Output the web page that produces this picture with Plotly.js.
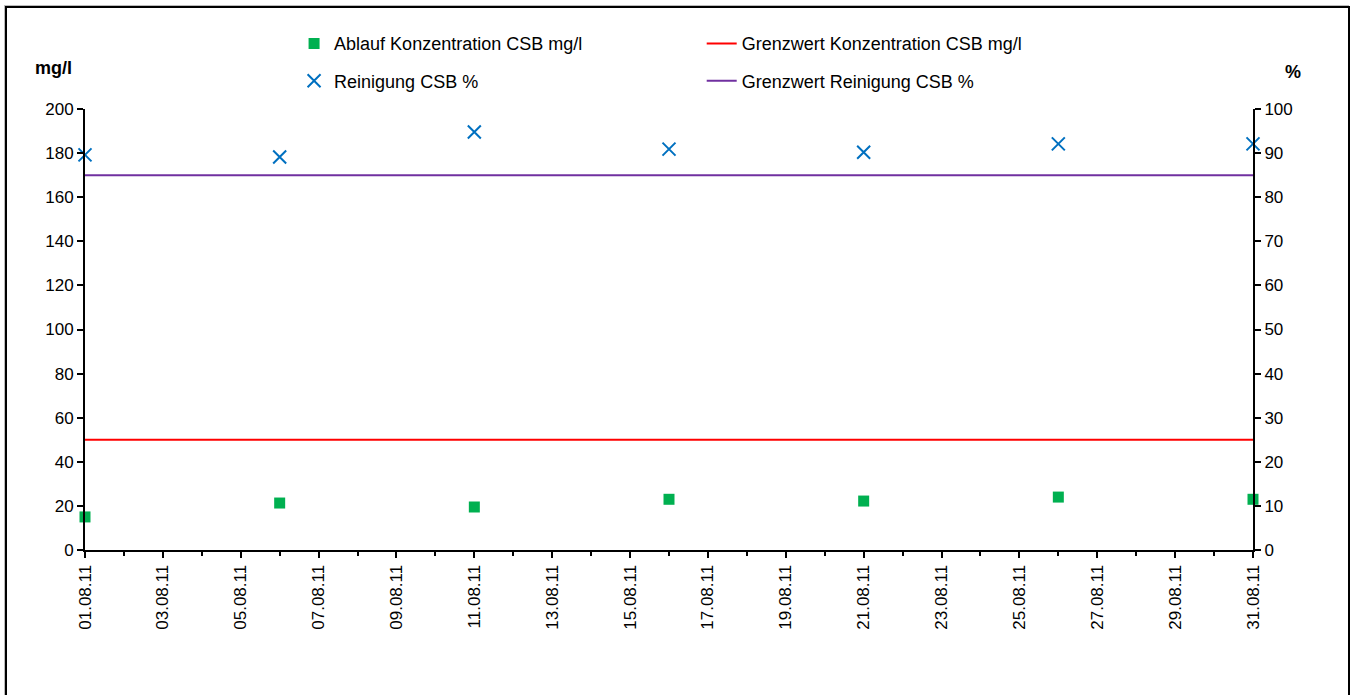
<!DOCTYPE html>
<html>
<head>
<meta charset="utf-8">
<script src="https://cdn.plot.ly/plotly-3.0.1.min.js"></script>
<style>
html,body{margin:0;padding:0;background:#fff;overflow:hidden;}
#chart{position:absolute;left:0;top:0;width:1355px;height:695px;}
#frame{position:absolute;left:5px;top:6px;width:1341px;height:720px;border:2px solid #000;box-shadow:-1px -1px 0 #bbb;pointer-events:none;}
</style>
</head>
<body>
<div id="chart"></div>
<div id="frame"></div>
<script>
const dates = ['2011-08-01','2011-08-06','2011-08-11','2011-08-16','2011-08-21','2011-08-26','2011-08-31'];
const ablaufCSB = [15, 21.3, 19.5, 23, 22.2, 24, 23];
const reinigungCSB = [89.6, 89.1, 94.8, 90.9, 90.2, 92.1, 92.1];
const limitDates = ['2011-08-01','2011-08-31'];
const grenzwertKonz = [50, 50];
const grenzwertReinigung = [85, 85];

const fam = 'Liberation Sans, Arial, sans-serif';
const font = {family:fam, size:17, color:'#000'};

const traces = [
  {x:dates, y:ablaufCSB, name:'Ablauf Konzentration CSB mg/l', type:'scatter', mode:'markers', cliponaxis:false,
   marker:{symbol:'square', size:11, color:'#00B050'}, yaxis:'y', legend:'legend', legendgroup:'a'},
  {x:dates, y:reinigungCSB, name:'Reinigung CSB %', type:'scatter', mode:'markers', cliponaxis:false,
   marker:{symbol:'x-thin-open', size:13, color:'#0070C0', line:{color:'#0070C0', width:2}}, yaxis:'y2', legend:'legend', legendgroup:'b'},
  {x:limitDates, y:grenzwertKonz, name:'Grenzwert Konzentration CSB mg/l', type:'scatter', mode:'lines',
   line:{color:'#FF0000', width:2}, yaxis:'y', legend:'legend2', legendgroup:'c'},
  {x:limitDates, y:grenzwertReinigung, name:'Grenzwert Reinigung CSB %', type:'scatter', mode:'lines',
   line:{color:'#7030A0', width:2}, yaxis:'y2', legend:'legend2', legendgroup:'d'}
];

const legFont = {family:fam, size:18, color:'#000'};
const layout = {
  width:1355, height:695,
  margin:{l:85, r:102, t:109, b:145},
  paper_bgcolor:'#fff', plot_bgcolor:'#fff',
  font:font,
  showlegend:true,
  legend:{x:0.179, xref:'paper', y:1.19, yanchor:'top', xanchor:'left', orientation:'v',
          font:legFont, tracegroupgap:11, itemwidth:30,
          bgcolor:'rgba(0,0,0,0)', traceorder:'grouped'},
  legend2:{x:0.528, xref:'paper', y:1.19, yanchor:'top', xanchor:'left', orientation:'v',
          font:legFont, tracegroupgap:11, itemwidth:30,
          bgcolor:'rgba(0,0,0,0)', traceorder:'grouped'},
  xaxis:{type:'date', range:['2011-08-01','2011-08-31'], tickformat:'%d.%m.%y',
         tick0:'2011-08-01', dtick:2*86400000, tickangle:-90,
         ticks:'outside', ticklen:6, tickwidth:2, tickcolor:'#000',
         showline:true, linecolor:'#000', linewidth:2, showgrid:false, zeroline:false,
         tickfont:font,
         minor:{dtick:86400000, tick0:'2011-08-02', ticks:'outside', ticklen:4, tickwidth:2, tickcolor:'#000', showgrid:false}},
  yaxis:{range:[0,200], dtick:20, ticks:'outside', ticklen:6, tickwidth:2, tickcolor:'#000',
         showline:true, linecolor:'#000', linewidth:2, showgrid:false, zeroline:false,
         tickfont:font},
  yaxis2:{range:[0,100], dtick:10, overlaying:'y', side:'right', ticks:'outside', ticklen:6, tickwidth:2, tickcolor:'#000',
          showline:true, linecolor:'#000', linewidth:2, showgrid:false, zeroline:false,
          tickfont:font},
  annotations:[
    {text:'<b>mg/l</b>', xref:'paper', yref:'paper', x:-0.027, y:1.093, xanchor:'center', yanchor:'middle', showarrow:false,
     font:{family:fam, size:18, color:'#000'}},
    {text:'<b>%</b>', xref:'paper', yref:'paper', x:1.034, y:1.084, xanchor:'center', yanchor:'middle', showarrow:false,
     font:{family:fam, size:18, color:'#000'}}
  ]
};

Plotly.newPlot('chart', traces, layout, {displayModeBar:false, staticPlot:true});
</script>
</body>
</html>
